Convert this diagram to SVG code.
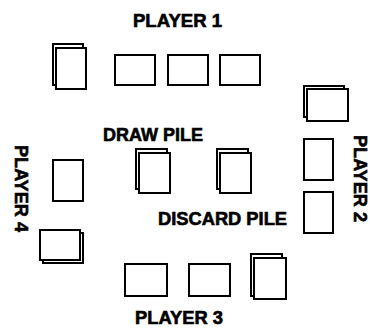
<svg xmlns="http://www.w3.org/2000/svg" width="370" height="328" viewBox="0 0 370 328">
<style>
.c{fill:#fff;stroke:#000;stroke-width:2}
.t{font-family:"Liberation Sans",Arial,sans-serif;font-weight:bold;font-size:17.5px;fill:#000;stroke:#000;stroke-width:0.6}
</style>
<rect width="370" height="328" fill="#fff"/>
<g id="player1">
<text class="t" x="133" y="26.5" textLength="89" lengthAdjust="spacingAndGlyphs">PLAYER 1</text>
<rect class="c" x="53" y="44" width="30" height="41"/>
<rect class="c" x="56" y="48" width="30" height="41"/>
<rect class="c" x="115" y="55" width="40" height="30"/>
<rect class="c" x="168" y="55" width="40" height="30"/>
<rect class="c" x="220" y="55" width="40" height="30"/>
</g>
<g id="player2">
<text class="t" transform="translate(354,135) rotate(90)" x="0" y="0" textLength="87" lengthAdjust="spacingAndGlyphs">PLAYER 2</text>
<rect class="c" x="304" y="86" width="40" height="31"/>
<rect class="c" x="307" y="89" width="41" height="32"/>
<rect class="c" x="304" y="139" width="29" height="41"/>
<rect class="c" x="304" y="192" width="29" height="41"/>
</g>
<g id="player4">
<text class="t" transform="translate(15,145) rotate(90)" x="0" y="0" textLength="87" lengthAdjust="spacingAndGlyphs">PLAYER 4</text>
<rect class="c" x="53" y="160" width="30" height="41"/>
<rect class="c" x="43" y="233" width="40" height="30"/>
<rect class="c" x="40" y="230" width="40" height="30"/>
</g>
<g id="drawpile">
<text class="t" x="103" y="141" textLength="100" lengthAdjust="spacingAndGlyphs">DRAW PILE</text>
<rect class="c" x="136" y="149" width="31" height="40"/>
<rect class="c" x="139" y="153" width="31" height="40"/>
</g>
<g id="discardpile">
<text class="t" x="158" y="225" textLength="129" lengthAdjust="spacingAndGlyphs">DISCARD PILE</text>
<rect class="c" x="217" y="149" width="31" height="40"/>
<rect class="c" x="220" y="153" width="31" height="40"/>
</g>
<g id="player3">
<text class="t" x="135" y="324" textLength="88" lengthAdjust="spacingAndGlyphs">PLAYER 3</text>
<rect class="c" x="125" y="264" width="42" height="32"/>
<rect class="c" x="189" y="264" width="41" height="32"/>
<rect class="c" x="251" y="254" width="31" height="42"/>
<rect class="c" x="254" y="258" width="32" height="41"/>
</g>
<g id="connectors"></g>
</svg>
